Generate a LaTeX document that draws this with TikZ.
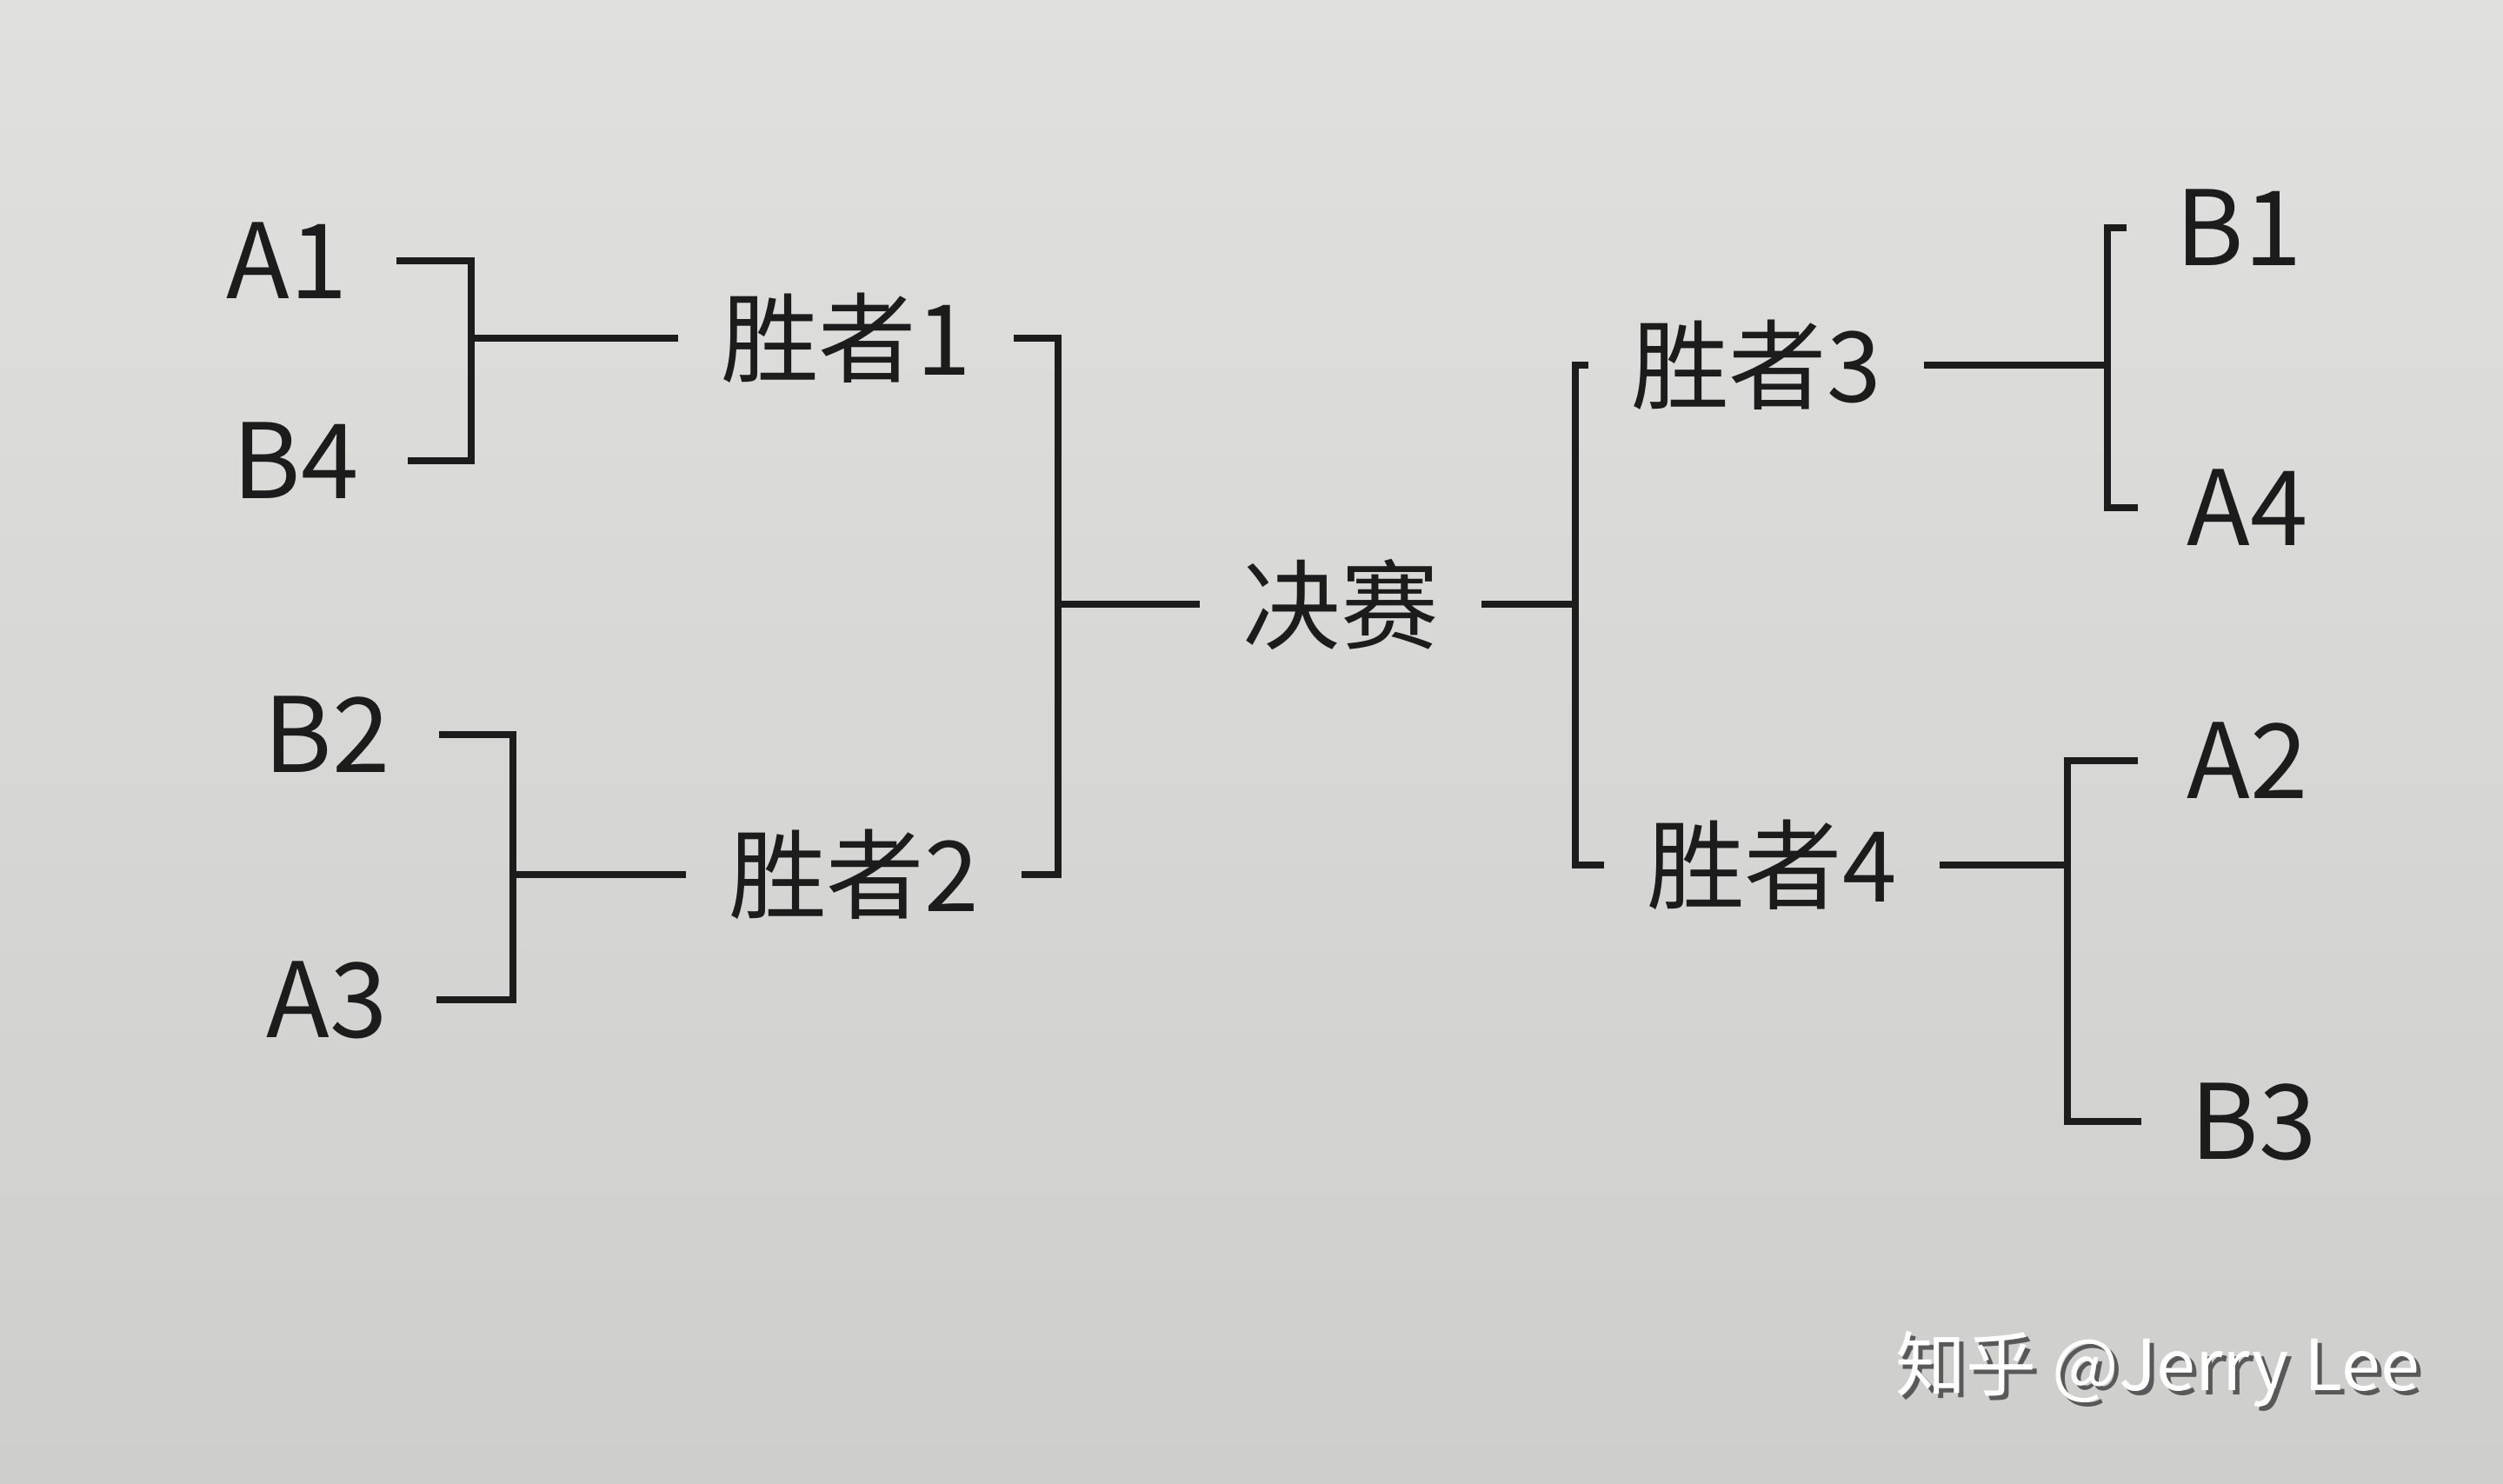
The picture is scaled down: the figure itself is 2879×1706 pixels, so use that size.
\documentclass[tikz,border=0pt]{standalone}
\usepackage{fontspec}
\setmainfont{Noto Sans CJK SC}
\usepackage{tikz}
\definecolor{paper}{RGB}{224,224,223}
\definecolor{paperdark}{RGB}{206,206,205}
\definecolor{ink}{RGB}{28,28,28}

\begin{document}
\begin{tikzpicture}[x=0.01cm,y=-0.01cm,
  line/.style={draw=ink,line width=2.3pt},
  team/.style={text=ink,font=\fontsize{34}{34}\selectfont,inner sep=0pt,outer sep=16pt},
  winner/.style={text=ink,font=\fontsize{32}{32}\selectfont,inner sep=0pt,outer sep=14pt},
  watermark/.style={text=white,font=\fontsize{23}{23}\selectfont}]

 \shade[top color=paper,bottom color=paperdark] (0,0) rectangle (2879,1706);
 \useasboundingbox (0,0) rectangle (2879,1706);

 \node[team] (a1) at (330,300) {A1};
 \node[team] (b4) at (340,530) {B4};
 \node[team] (b2) at (376,845) {B2};
 \node[team] (a3) at (376,1150) {A3};
 \node[team] (b1) at (2575,262) {B1};
 \node[team] (a4) at (2585,584) {A4};
 \node[team] (a2) at (2585,875) {A2};
 \node[team] (b3) at (2592,1290) {B3};

 \node[winner] (w1) at (973,389) {胜者1};
 \node[winner] (w2) at (982,1006) {胜者2};
 \node[winner] (fin) at (1542,695) {决赛};
 \node[winner] (w3) at (2020,420) {胜者3};
 \node[winner] (w4) at (2038,995) {胜者4};

 \coordinate (s1) at (542,389);
 \coordinate (s2) at (590,1006);
 \coordinate (s3) at (1217,695);
 \coordinate (s4) at (1812,695);
 \coordinate (s5) at (2424,420);
 \coordinate (s6) at (2378,995);

 \draw[line] (a1.east) -| (s1) |- (b4.east);
 \draw[line] (s1) -- (w1.west);
 \draw[line] (b2.east) -| (s2) |- (a3.east);
 \draw[line] (s2) -- (w2.west);
 \draw[line] (w1.east) -| (s3) |- (w2.east);
 \draw[line] (s3) -- (fin.west);
 \draw[line] (fin.east) -- (s4);
 \draw[line] (w3.west) -| (s4) |- (w4.west);
 \draw[line] (w3.east) -- (s5);
 \draw[line] (b1.west) -| (s5) |- (a4.west);
 \draw[line] (w4.east) -- (s6);
 \draw[line] (a2.west) -| (s6) |- (b3.west);

 \node[watermark,text=gray!70!black] at (2487,1580) {知乎 @Jerry Lee};
 \node[watermark] (wm) at (2482,1575) {知乎 @Jerry Lee};
\end{tikzpicture}
\end{document}
